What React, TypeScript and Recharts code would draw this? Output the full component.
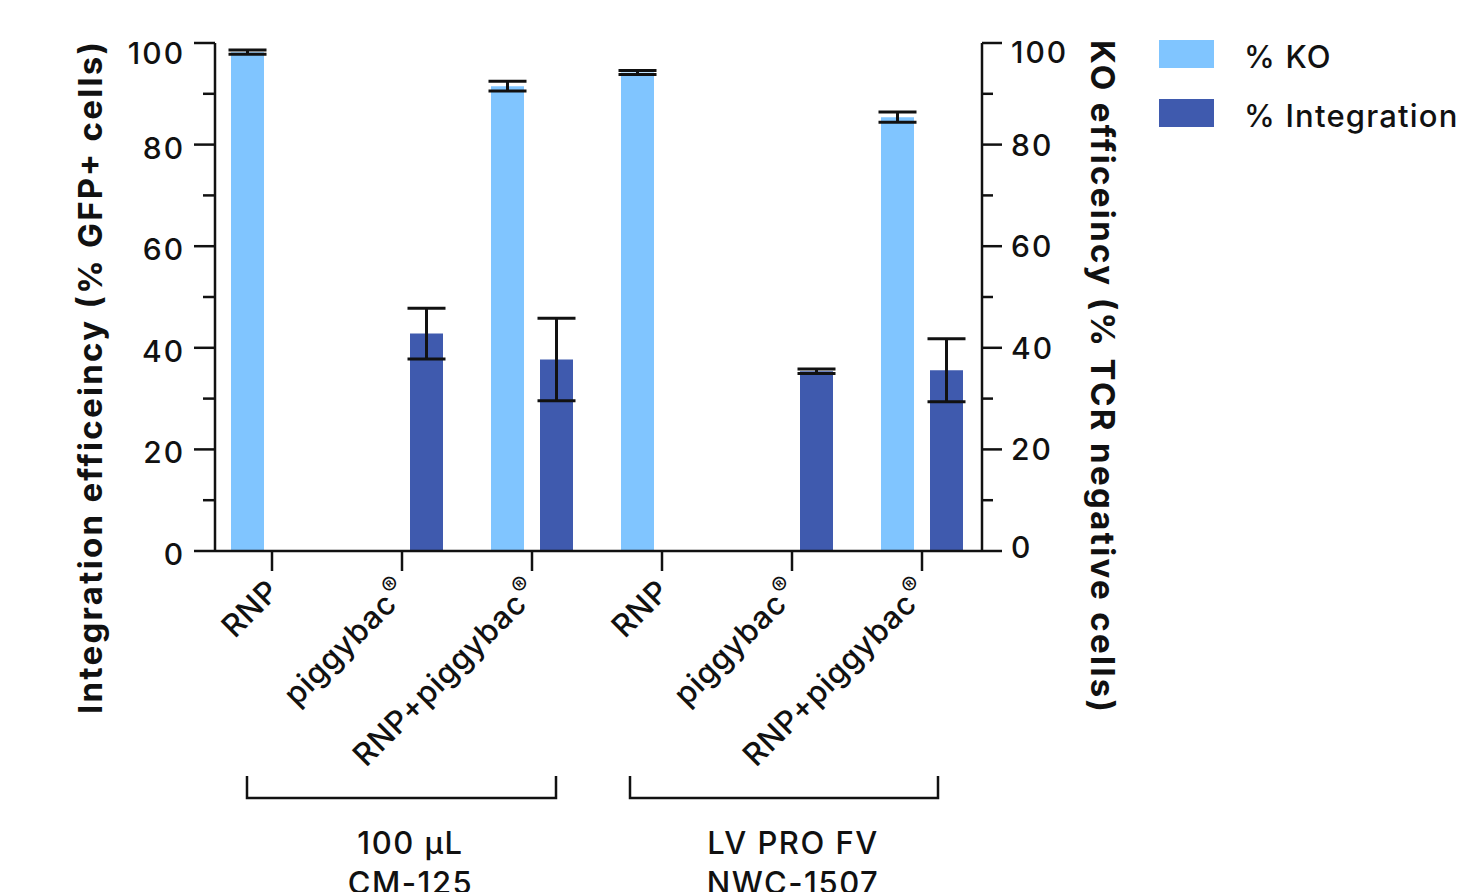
import { Bar, BarChart, ErrorBar, XAxis, YAxis } from "recharts";

const CATEGORIES = ["RNP", "piggybac", "RNP+piggybac", "RNP", "piggybac", "RNP+piggybac"];
const REGISTERED = [false, true, true, false, true, true];
const KO = [98.2, null, 91.5, 94.2, null, 85.4];
const KO_ERR = [0.4, null, 0.95, 0.4, null, 1.0];
const INTEGRATION = [null, 42.8, 37.7, null, 35.4, 35.6];
const INTEGRATION_ERR = [null, 5.0, 8.1, null, 0.45, 6.2];
const Y_TICKS = [0, 10, 20, 30, 40, 50, 60, 70, 80, 90, 100];
const GROUP_LINE1 = ["100 µL", "LV PRO FV"];
const GROUP_LINE2 = ["CM-125", "NWC-1507"];
const SERIES = [
  { name: "% KO", color: "#80C5FF" },
  { name: "% Integration", color: "#3F5AAE" },
];

const FONT = "Inter, 'Noto Sans', sans-serif";
const INK = "#111";

const data = CATEGORIES.map((_, i) => ({
  key: String(i),
  ko: KO[i],
  koErr: KO_ERR[i],
  integration: INTEGRATION[i],
  integrationErr: INTEGRATION_ERR[i],
}));

function CategoryTick({ x, y, payload }: any) {
  const i = Number(payload.value);
  return (
    <g transform={`translate(${x},${y})`}>
      <line x1={0} y1={0} x2={0} y2={20} stroke={INK} strokeWidth={2.5} />
      <text
        transform="translate(9,42) rotate(-45)"
        textAnchor="end"
        fontSize={31}
        fontWeight={500}
        letterSpacing={0.7}
        fontFamily={FONT}
        fill={INK}
      >
        {CATEGORIES[i]}
        {REGISTERED[i] ? (
          <tspan fontSize={24} fontWeight={400} dy={-11} dx={1}>
            ®
          </tspan>
        ) : null}
      </text>
    </g>
  );
}

function LeftTick({ x, y, payload }: any) {
  const v = payload.value;
  const major = v % 20 === 0;
  return (
    <g>
      <line x1={x - (major ? 21 : 12)} x2={x} y1={y} y2={y} stroke={INK} strokeWidth={2.5} />
      {major ? (
        <text
          x={x - 30}
          y={y + (v === 100 ? 10 : 3)}
          textAnchor="end"
          dominantBaseline="central"
          fontSize={30}
          fontWeight={500}
          letterSpacing={2}
          fontFamily={FONT}
          fill={INK}
        >
          {v}
        </text>
      ) : null}
    </g>
  );
}

function RightTick({ x, y, payload }: any) {
  const v = payload.value;
  const major = v % 20 === 0;
  return (
    <g>
      <line x1={x} x2={x + (major ? 20 : 11)} y1={y} y2={y} stroke={INK} strokeWidth={2.5} />
      {major ? (
        <text
          x={x + 29}
          y={y + (v === 100 ? 9 : v === 0 ? -4 : 0)}
          textAnchor="start"
          dominantBaseline="central"
          fontSize={30}
          fontWeight={500}
          letterSpacing={2}
          fontFamily={FONT}
          fill={INK}
        >
          {v}
        </text>
      ) : null}
    </g>
  );
}

function LeftTitle() {
  return (
    <text
      transform="translate(90,378) rotate(-90)"
      textAnchor="middle"
      dominantBaseline="central"
      fontSize={33}
      fontWeight={700}
      textLength={672}
      lengthAdjust="spacing"
      fontFamily={FONT}
      fill={INK}
    >
      Integration efficeincy (% GFP+ cells)
    </text>
  );
}

function RightTitle() {
  return (
    <text
      transform="translate(1103,376) rotate(90)"
      textAnchor="middle"
      dominantBaseline="central"
      fontSize={33}
      fontWeight={700}
      textLength={672}
      lengthAdjust="spacing"
      fontFamily={FONT}
      fill={INK}
    >
      KO efficeincy (% TCR negative cells)
    </text>
  );
}

export default function App() {
  return (
    <div
      style={{
        position: "absolute",
        left: 0,
        top: 0,
        width: 1469,
        height: 892,
        overflow: "hidden",
        background: "#fff",
        fontFamily: FONT,
      }}
    >
      <BarChart
        width={1469}
        height={892}
        data={data}
        margin={{ top: 43, right: 387, bottom: 281, left: 115 }}
        barSize={33}
        barGap={16}
      >
        <XAxis
          dataKey="key"
          interval={0}
          padding={{ left: -8, right: -5 }}
          tickSize={0}
          tickMargin={0}
          tickLine={false}
          tick={<CategoryTick />}
          height={60}
          axisLine={{ stroke: INK, strokeWidth: 2.5 }}
        />
        <YAxis
          yAxisId="left"
          orientation="left"
          domain={[0, 100]}
          ticks={Y_TICKS}
          interval={0}
          width={100}
          tickSize={0}
          tickMargin={0}
          tickLine={false}
          tick={<LeftTick />}
          axisLine={{ stroke: INK, strokeWidth: 2.5 }}
          label={() => <LeftTitle />}
        />
        <YAxis
          yAxisId="right"
          orientation="right"
          domain={[0, 100]}
          ticks={Y_TICKS}
          interval={0}
          width={100}
          tickSize={0}
          tickMargin={0}
          tickLine={false}
          tick={<RightTick />}
          axisLine={{ stroke: INK, strokeWidth: 2.5 }}
          label={() => <RightTitle />}
        />
        <Bar
          yAxisId="right"
          dataKey="ko"
          name={SERIES[0].name}
          fill={SERIES[0].color}
          isAnimationActive={false}
        >
          <ErrorBar dataKey="koErr" width={19} stroke={INK} strokeWidth={3} />
        </Bar>
        <Bar
          yAxisId="left"
          dataKey="integration"
          name={SERIES[1].name}
          fill={SERIES[1].color}
          isAnimationActive={false}
        >
          <ErrorBar dataKey="integrationErr" width={19} stroke={INK} strokeWidth={3} />
        </Bar>
      </BarChart>

      <svg
        width={1469}
        height={892}
        style={{ position: "absolute", left: 0, top: 0, pointerEvents: "none" }}
      >
        {[
          [247, 556],
          [630, 938],
        ].map(([x1, x2], g) => (
          <g key={g}>
            <path
              d={`M${x1},776 V798 H${x2} V776`}
              fill="none"
              stroke={INK}
              strokeWidth={2.5}
            />
            <text
              x={(x1 + x2) / 2 + 9}
              y={854}
              textAnchor="middle"
              fontSize={31}
              fontWeight={500}
              letterSpacing={1.5}
              fontFamily={FONT}
              fill={INK}
            >
              {GROUP_LINE1[g]}
            </text>
            <text
              x={(x1 + x2) / 2 + 9}
              y={894}
              textAnchor="middle"
              fontSize={31}
              fontWeight={500}
              letterSpacing={1.5}
              fontFamily={FONT}
              fill={INK}
            >
              {GROUP_LINE2[g]}
            </text>
          </g>
        ))}
      </svg>

      {SERIES.map((s, i) => (
        <div
          key={s.name}
          style={{
            position: "absolute",
            left: 1159,
            top: 40 + i * 59,
            height: 28,
            display: "flex",
            alignItems: "center",
            whiteSpace: "nowrap",
          }}
        >
          <div style={{ width: 55, height: 28, background: s.color }} />
          <span
            style={{
              marginLeft: 30,
              fontSize: 31,
              fontWeight: 500,
              letterSpacing: 1.2,
              color: INK,
              lineHeight: "28px",
              position: "relative",
              top: 3,
            }}
          >
            {s.name}
          </span>
        </div>
      ))}
    </div>
  );
}
